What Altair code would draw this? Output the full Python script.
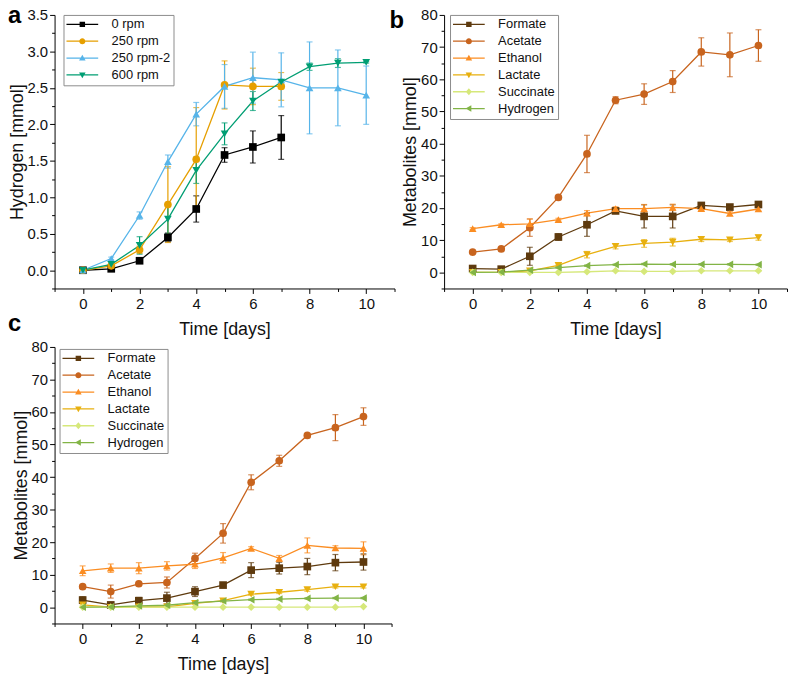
import altair as alt
import pandas as pd

FONT = "Liberation Sans"

# ---------------- data ----------------
days = list(range(11))

# panel a : hydrogen production
rpm_names = ["0 rpm", "250 rpm", "250 rpm-2", "600 rpm"]
rpm_colors = ["#000000", "#E69F00", "#56B4E9", "#009E73"]
rpm_shapes = ["square", "circle", "triangle-up", "triangle-down"]
h_0rpm = [0.00, 0.02, 0.13, 0.45, 0.84, 1.58, 1.69, 1.82]
h_0rpm_err = [0.00, 0.01, 0.03, 0.06, 0.18, 0.10, 0.22, 0.30]
h_250rpm = [0.00, 0.06, 0.28, 0.90, 1.52, 2.54, 2.52, 2.52]
h_250rpm_err = [0.00, 0.02, 0.05, 0.52, 0.71, 0.33, 0.25, 0.19]
h_250rpm2 = [0.00, 0.16, 0.75, 1.49, 2.14, 2.52, 2.64, 2.61, 2.50, 2.50, 2.40]
h_250rpm2_err = [0.00, 0.02, 0.05, 0.09, 0.16, 0.30, 0.35, 0.37, 0.63, 0.52, 0.40]
h_600rpm = [0.00, 0.08, 0.34, 0.70, 1.37, 1.87, 2.32, 2.58, 2.79, 2.84, 2.85]
h_600rpm_err = [0.00, 0.02, 0.12, 0.20, 0.18, 0.15, 0.13, 0.03, 0.05, 0.06, 0.01]

# panels b, c : metabolites
met_names = ["Formate", "Acetate", "Ethanol", "Lactate", "Succinate", "Hydrogen"]
met_colors = ["#5E3A0E", "#C8641E", "#FB8D22", "#E8B00F", "#D6E87A", "#82B446"]
met_shapes = ["square", "circle", "triangle-up", "triangle-down", "diamond", "triangle-left"]

formate_b = [1.2, 1.0, 5.0, 11.0, 14.8, 19.1, 17.4, 17.4, 20.8, 20.3, 21.1]
formate_b_err = [0.3, 0.3, 2.8, 1.0, 3.6, 0.5, 3.6, 3.6, 0.6, 0.5, 0.6]
acetate_b = [6.3, 7.3, 13.9, 23.3, 36.8, 53.5, 55.4, 59.3, 68.5, 67.6, 70.5]
acetate_b_err = [0.3, 0.3, 2.7, 0.4, 5.8, 1.1, 3.2, 3.4, 4.4, 6.8, 4.9]
ethanol_b = [13.6, 14.8, 15.1, 16.4, 18.4, 19.8, 19.8, 20.2, 19.8, 18.3, 19.7]
ethanol_b_err = [0.3, 0.3, 1.5, 0.4, 0.8, 0.6, 1.3, 1.0, 0.6, 0.6, 0.6]
lactate_b = [0.0, 0.0, 0.5, 2.2, 5.5, 8.1, 9.0, 9.4, 10.3, 10.1, 10.8]
lactate_b_err = [0.0, 0.0, 0.2, 0.4, 1.0, 0.8, 1.2, 1.2, 0.7, 0.5, 0.8]
succinate_b = [0.0, 0.0, 0.0, 0.0, 0.2, 0.5, 0.3, 0.3, 0.5, 0.5, 0.5]
succinate_b_err = [0.0, 0.0, 0.0, 0.0, 0.1, 0.1, 0.1, 0.1, 0.1, 0.1, 0.1]
hydrogen_b = [0.0, 0.1, 0.7, 1.5, 2.1, 2.4, 2.6, 2.5, 2.5, 2.5, 2.4]
hydrogen_b_err = [0.0, 0.0, 0.1, 0.2, 0.2, 0.2, 0.2, 0.2, 0.2, 0.2, 0.2]

formate_c = [2.2, 0.7, 2.0, 2.8, 4.8, 6.8, 11.4, 12.0, 12.5, 13.7, 13.9]
formate_c_err = [1.0, 0.5, 1.0, 1.8, 1.5, 0.5, 2.3, 1.8, 2.5, 2.5, 2.5]
acetate_c = [6.3, 4.8, 7.2, 7.6, 15.0, 22.7, 38.4, 45.0, 52.8, 55.2, 58.6]
acetate_c_err = [0.5, 2.0, 0.5, 1.7, 1.6, 3.0, 2.3, 1.7, 0.5, 4.0, 2.7]
ethanol_c = [11.2, 12.0, 12.0, 12.7, 13.2, 15.2, 18.1, 15.0, 19.0, 18.2, 18.1]
ethanol_c_err = [1.5, 1.3, 1.7, 1.3, 1.3, 1.6, 0.5, 0.9, 2.3, 0.7, 2.0]
lactate_c = [0.7, 0.0, 0.1, 0.1, 1.2, 2.0, 4.0, 4.6, 5.4, 6.3, 6.3]
lactate_c_err = [0.3, 0.0, 0.1, 0.1, 0.3, 0.3, 0.3, 0.4, 0.5, 0.4, 0.4]
succinate_c = [0.0, 0.0, 0.0, 0.0, 0.0, 0.0, 0.0, 0.0, 0.0, 0.0, 0.2]
succinate_c_err = [0.0] * 11
hydrogen_c = [0.0, 0.1, 0.4, 0.6, 1.4, 1.9, 2.3, 2.5, 2.7, 2.8, 2.8]
hydrogen_c_err = [0.0, 0.0, 0.1, 0.1, 0.2, 0.2, 0.2, 0.2, 0.2, 0.2, 0.2]

# tick positions
x_major = [0, 2, 4, 6, 8, 10]
x_minor = [-1, 1, 3, 5, 7, 9, 11]
ya_major = [0.0, 0.5, 1.0, 1.5, 2.0, 2.5, 3.0, 3.5]
ya_minor = [-0.25, 0.25, 0.75, 1.25, 1.75, 2.25, 2.75, 3.25]
ym_major = [0, 10, 20, 30, 40, 50, 60, 70, 80]
ym_minor = [-5, 5, 15, 25, 35, 45, 55, 65, 75]

# legend glyphs (units of 5 px): a short line with the marker in the middle
LINE = "M-3.2,-0.13H3.2V0.13H-3.2Z"
leg_paths = {
    "square": LINE + " M-0.55,-0.55H0.55V0.55H-0.55Z",
    "circle": LINE + " M0.62,0A0.62,0.62 0 1,1 -0.62,0A0.62,0.62 0 1,1 0.62,0Z",
    "triangle-up": LINE + " M0,-0.68L0.66,0.5L-0.66,0.5Z",
    "triangle-down": LINE + " M0,0.68L-0.66,-0.5L0.66,-0.5Z",
    "diamond": LINE + " M0,-0.72L0.62,0L0,0.72L-0.62,0Z",
    "triangle-left": LINE + " M-0.68,0L0.5,-0.66L0.5,0.66Z",
}


def build_df(names, values, errors):
    rows = []
    for name, vals, errs in zip(names, values, errors):
        for d, v, e in zip(days, vals, errs):
            rows.append({"series": name, "day": d, "value": v,
                         "lo": v - e, "hi": v + e, "err": e})
    return pd.DataFrame(rows)


df_a = build_df(rpm_names,
                [h_0rpm, h_250rpm, h_250rpm2, h_600rpm],
                [h_0rpm_err, h_250rpm_err, h_250rpm2_err, h_600rpm_err])
df_b = build_df(met_names,
                [formate_b, acetate_b, ethanol_b, lactate_b, succinate_b, hydrogen_b],
                [formate_b_err, acetate_b_err, ethanol_b_err, lactate_b_err,
                 succinate_b_err, hydrogen_b_err])
df_c = build_df(met_names,
                [formate_c, acetate_c, ethanol_c, lactate_c, succinate_c, hydrogen_c],
                [formate_c_err, acetate_c_err, ethanol_c_err, lactate_c_err,
                 succinate_c_err, hydrogen_c_err])


def panel(df, names, colors, shapes, ydomain, ymaj, ymin, ytitle, yformat,
          legx, legy, width, height, letters):
    xscale = alt.Scale(domain=[-1, 11], nice=False, zero=False)
    yscale = alt.Scale(domain=ydomain, nice=False, zero=False)
    x = alt.X("day:Q", scale=xscale,
              axis=alt.Axis(values=x_major, format="d", title="Time [days]", orient="bottom"))
    y = alt.Y("value:Q", scale=yscale,
              axis=alt.Axis(values=ymaj, format=yformat, title=ytitle, orient="left"))
    cscale = alt.Scale(domain=names, range=colors)

    base = alt.Chart(df)
    lines = base.mark_line(strokeWidth=1.3).encode(
        x=x, y=y, color=alt.Color("series:N", scale=cscale, legend=None),
        detail="series:N")
    minor = base.mark_point(opacity=0).encode(
        x=alt.X("day:Q", scale=xscale,
                axis=alt.Axis(values=x_minor, labels=False, domain=False, tickSize=3,
                              title=None, orient="bottom", offset=0)),
        y=alt.Y("value:Q", scale=yscale,
                axis=alt.Axis(values=ymin, labels=False, domain=False, tickSize=3,
                              title=None, orient="left", offset=0)))
    errs = base.transform_filter("datum.err > 0").mark_errorbar(
        ticks=True, size=6, thickness=1.2).encode(
        x=alt.X("day:Q", axis=None), y=alt.Y("lo:Q", axis=None), y2="hi:Q",
        color=alt.Color("series:N", scale=cscale, legend=None))
    pts = base.mark_point(filled=True, size=60, opacity=1).encode(
        x=alt.X("day:Q", axis=None), y=alt.Y("value:Q", axis=None),
        color=alt.Color("series:N", scale=cscale, legend=None),
        shape=alt.Shape("series:N", scale=alt.Scale(domain=names, range=shapes), legend=None))

    leg = alt.Legend(
        orient="none", legendX=legx, legendY=legy, title=None,
        strokeColor="#8c8c8c", fillColor="white", padding=3,
        labelFont=FONT, labelFontSize=13, labelColor="#111", labelOffset=23,
        symbolSize=100, symbolOffset=9.5, symbolOpacity=1, symbolStrokeWidth=0,
        rowPadding=3,
    )
    legend_layer = base.transform_filter("false").mark_point(filled=True).encode(
        color=alt.Color("series:N", scale=cscale, legend=leg),
        shape=alt.Shape("series:N",
                        scale=alt.Scale(domain=names, range=[leg_paths[s] for s in shapes]),
                        legend=leg))

    layers = [lines, minor, errs, pts, legend_layer]
    for txt, lx, ly in letters:
        layers.append(
            alt.Chart(pd.DataFrame({"t": [txt]})).mark_text(
                font=FONT, fontSize=24, fontWeight="bold", align="left",
                baseline="alphabetic", color="#000").encode(
                text="t:N", x=alt.value(lx), y=alt.value(ly)))

    return alt.layer(*layers).resolve_scale(
        color="independent", shape="independent"
    ).resolve_axis(x="independent", y="independent").properties(width=width, height=height)


pa = panel(df_a, rpm_names, rpm_colors, rpm_shapes, [-0.25, 3.5], ya_major, ya_minor,
           "Hydrogen [mmol]", ".1f", 9, 0, 343, 276,
           [("a", -47, 8), ("c", -47, 319)])
pb = panel(df_b, met_names, met_colors, met_shapes, [-5, 80], ym_major, ym_minor,
           "Metabolites [mmol]", "d", 6, 0, 346, 276, [("b", -55, 13)])
pc = panel(df_c, met_names, met_colors, met_shapes, [-5, 80], ym_major, ym_minor,
           "Metabolites [mmol]", "d", 5, 2, 340, 279, [])

chart = alt.concat(
    pa, pb, pc, columns=2, spacing={"row": 59, "column": 50}, bounds="flush",
).properties(
    padding={"left": 0, "top": -7, "right": 0, "bottom": 0}
).configure_view(stroke=None).configure_axis(
    grid=False, domainColor="#000", tickColor="#000", domainWidth=1, tickWidth=1,
    tickSize=5,
    labelFont=FONT, labelFontSize=15, labelColor="#111", labelPadding=3,
    titleFont=FONT, titleFontSize=18, titleFontWeight="normal", titleColor="#111",
    titlePadding=4,
).configure_axisY(labelPadding=2, titlePadding=1).configure_axisX(titlePadding=9)

chart.save("out.html", embed_options={"renderer": "svg", "actions": False})
